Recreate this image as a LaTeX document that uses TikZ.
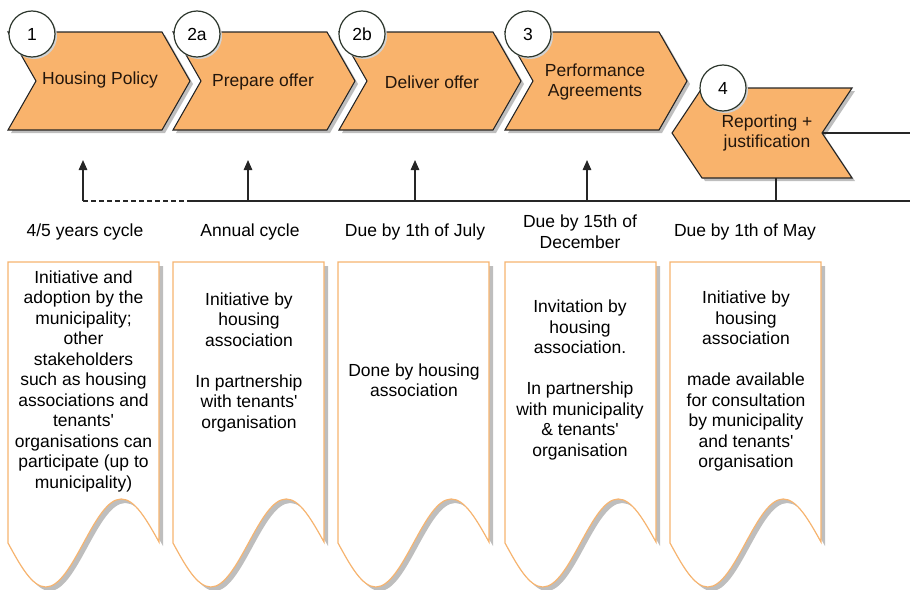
\documentclass[tikz,border=0pt]{standalone}
\usepackage{fontspec}
\setmainfont{Liberation Sans}
\usetikzlibrary{arrows.meta}
\definecolor{chev}{RGB}{249,179,108}
\definecolor{cardline}{RGB}{246,180,112}
\definecolor{shadowgray}{RGB}{190,190,190}
\definecolor{circline}{RGB}{45,55,45}
\definecolor{chevtext}{RGB}{35,22,12}
\newcommand\apos{\textquotesingle}
\tikzset{
 chevbox/.style={fill=chev, draw=black!85, line width=1.1pt, line join=miter},
 chevshadow/.style={fill=shadowgray},
 cardbox/.style={fill=white, draw=cardline, line width=1.2pt},
 badge/.style={circle, fill=white, draw=circline, line width=1.2pt, minimum size=46pt, inner sep=0pt, font=\fontsize{17.5}{20}\selectfont},
 chevlabel/.style={align=center, text=chevtext, font=\fontsize{17.5}{20.5}\selectfont, inner sep=0pt},
 duelabel/.style={align=center, font=\fontsize{17.5}{21}\selectfont, inner sep=0pt},
 cardtext/.style={align=center, font=\fontsize{17.5}{20.5}\selectfont, inner sep=0pt},
 conn/.style={line width=1.4pt, draw=black!85},
 arr/.style={conn, -{Triangle[width=8.5pt,length=10pt]}},
}
\begin{document}
\begin{tikzpicture}[x=1pt,y=-1pt]
\useasboundingbox (0,0) rectangle (910,589);
% chevron shadows
\foreach \L in {8,173,339,505}{
 \fill[chevshadow] (\L+3,35) -- (\L+157,35) -- (\L+185,84) -- (\L+157,133) -- (\L+3,133) -- (\L+31,84) -- cycle;
}
\fill[chevshadow] (675,136) -- (705,91) -- (855,91) -- (825,136) -- (855,181) -- (705,181) -- cycle;
% chevrons
\foreach \L in {8,173,339,505}{
 \draw[chevbox] (\L,32) -- (\L+154,32) -- (\L+182,81) -- (\L+154,130) -- (\L,130) -- (\L+28,81) -- cycle;
}
\draw[chevbox] (672,133) -- (702,88) -- (852,88) -- (822,133) -- (852,178) -- (702,178) -- cycle;
% chevron labels
\node[chevlabel] (t1) at (100,80) {Housing Policy};
\node[chevlabel] (t2a) at (263,82) {Prepare offer};
\node[chevlabel] (t2b) at (432,82) {Deliver offer};
\node[chevlabel] (t3) at (595,82) {Performance\\Agreements};
\node[chevlabel] (t4) at (767,133) {Reporting +\\justification};
% badges
\fill[shadowgray!70] (34,36) circle (23);
\fill[shadowgray!70] (199,36) circle (23);
\fill[shadowgray!70] (364,36) circle (23);
\fill[shadowgray!70] (530,36) circle (23);
\fill[shadowgray!70] (725,90) circle (23);
\node[badge] (n1) at (32,34) {1};
\node[badge] (n2a) at (197,34) {2a};
\node[badge] (n2b) at (362,34) {2b};
\node[badge] (n3) at (528,34) {3};
\node[badge] (n4) at (723,88) {4};
% connectors
\coordinate (h0) at (83,201);
\coordinate (hs) at (190,201);
\coordinate (hend) at (910,201);
\coordinate (b2) at (248,201);
\coordinate (b3) at (415,201);
\coordinate (b4) at (587,201);
\coordinate (a1) at (83,160);
\coordinate (a2) at (248,160);
\coordinate (a3) at (415,160);
\coordinate (a4) at (587,160);
\coordinate (c4bot) at (776,178);
\coordinate (c4low) at (776,201);
\coordinate (c4notch) at (822,133);
\coordinate (rend) at (910,133);
\draw[conn, dash pattern=on 5pt off 3pt] (h0) -- (hs);
\draw[conn] (hs) -- (hend);
\draw[conn] (c4bot) -- (c4low);
\draw[conn] (c4notch) -- (rend);
\draw[arr] (h0) -- (a1);
\draw[arr] (b2) -- (a2);
\draw[arr] (b3) -- (a3);
\draw[arr] (b4) -- (a4);
% due labels
\node[duelabel] (d1) at (85,232) {4/5 years cycle};
\node[duelabel] (d2) at (250,232) {Annual cycle};
\node[duelabel] (d3) at (415,232) {Due by 1th of July};
\node[duelabel] (d4) at (580,232) {Due by 15th of\\December};
\node[duelabel] (d5) at (745,232) {Due by 1th of May};
% cards
\foreach \L in {8,173,338,505,670}{
 \fill[shadowgray] (\L+4,266) -- (\L+155,266) -- (\L+155,546) sin (\L+117.25,503) cos (\L+79.5,547) sin (\L+41.75,591) cos (\L+4,547) -- cycle;
 \draw[cardbox] (\L,262) -- (\L+151,262) -- (\L+151,542) sin (\L+113.25,499) cos (\L+75.5,543) sin (\L+37.75,587) cos (\L,543) -- cycle;
}
\node[cardtext] (k1) at (83.5,381) {Initiative and\\adoption by the\\municipality;\\other\\stakeholders\\such as housing\\associations and\\tenants\apos\\organisations can\\participate (up to\\municipality)};
\node[cardtext] (k2) at (249,362) {Initiative by\\housing\\association\\[20.5pt]In partnership\\with tenants\apos\\organisation};
\node[cardtext] (k3) at (414,380) {Done by housing\\association};
\node[cardtext] (k4) at (580,380) {Invitation by\\housing\\association.\\[20.5pt]In partnership\\with municipality\\\& tenants\apos\\organisation};
\node[cardtext] (k5) at (746,381) {Initiative by\\housing\\association\\[20.5pt]made available\\for consultation\\by municipality\\and tenants\apos\\organisation};
\end{tikzpicture}
\end{document}
